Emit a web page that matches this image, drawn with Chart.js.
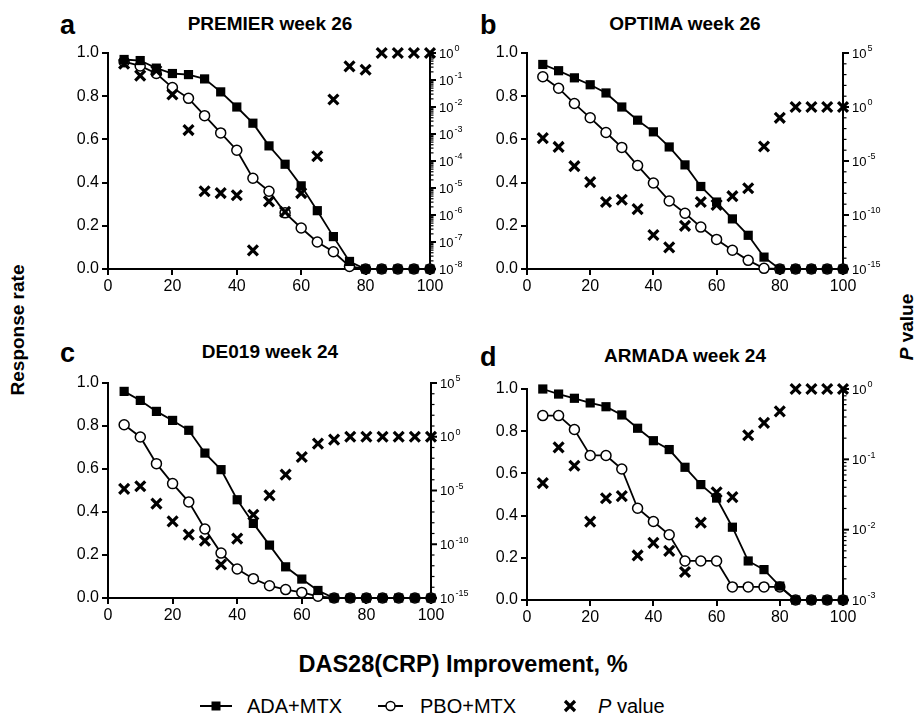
<!DOCTYPE html>
<html>
<head>
<meta charset="utf-8">
<script src="https://cdn.jsdelivr.net/npm/chart.js@4.4.0/dist/chart.umd.min.js"></script>
<style>
  body { margin: 0; background: #fff; }
  #fig { position: relative; width: 920px; height: 718px; overflow: hidden; background: #fff; }
  #fig canvas, #fig svg { position: absolute; left: 0; top: 0; }
</style>
</head>
<body>
<div id="fig">
  <svg width="920" height="718" font-family="'Liberation Sans', Arial, sans-serif" fill="#000">
    <text x="60" y="34" font-size="27" font-weight="bold">a</text>
    <text x="480" y="34" font-size="27" font-weight="bold">b</text>
    <text x="60" y="362" font-size="27" font-weight="bold">c</text>
    <text x="480" y="366" font-size="27" font-weight="bold">d</text>

    <text x="270" y="30" font-size="19" font-weight="bold" text-anchor="middle">PREMIER week 26</text>
    <text x="685" y="30" font-size="19" font-weight="bold" text-anchor="middle">OPTIMA week 26</text>
    <text x="270" y="358" font-size="19" font-weight="bold" text-anchor="middle">DE019 week 24</text>
    <text x="685" y="362" font-size="19" font-weight="bold" text-anchor="middle">ARMADA week 24</text>

    <text transform="translate(24,330) rotate(-90)" font-size="19" font-weight="bold" text-anchor="middle">Response rate</text>
    <text transform="translate(913,327) rotate(-90)" font-size="19" font-weight="bold" text-anchor="middle"><tspan font-style="italic">P</tspan> value</text>

    <text x="463" y="672" font-size="23.5" font-weight="bold" text-anchor="middle">DAS28(CRP) Improvement, %</text>

    <line x1="200" y1="706" x2="232" y2="706" stroke="#000" stroke-width="2"/>
    <rect x="211.5" y="701.5" width="9" height="9" fill="#000"/>
    <text x="247" y="713" font-size="20">ADA+MTX</text>
    <line x1="378" y1="706" x2="403" y2="706" stroke="#000" stroke-width="2"/>
    <circle cx="390.5" cy="706" r="4.5" fill="#fff" stroke="#000" stroke-width="1.5"/>
    <text x="420" y="713" font-size="20">PBO+MTX</text>
    <path d="M565 701 L575 711 M575 701 L565 711" stroke="#000" stroke-width="3.2"/>
    <text x="598" y="713" font-size="20"><tspan font-style="italic">P</tspan> value</text>
  </svg>
  <canvas id="pa"></canvas>
  <canvas id="pb"></canvas>
  <canvas id="pc"></canvas>
  <canvas id="pd"></canvas>
</div>
<script>
// DAS28(CRP) improvement thresholds, %
const improvement = [5, 10, 15, 20, 25, 30, 35, 40, 45, 50, 55, 60, 65, 70, 75, 80, 85, 90, 95, 100];

// a: PREMIER week 26
const premierAda = [0.97, 0.965, 0.93, 0.905, 0.90, 0.88, 0.82, 0.75, 0.675, 0.57, 0.485, 0.385, 0.27, 0.15, 0.035, 0, 0, 0, 0, 0];
const premierPbo = [0.96, 0.94, 0.905, 0.84, 0.79, 0.71, 0.63, 0.55, 0.42, 0.36, 0.26, 0.19, 0.125, 0.08, 0.012, 0, 0, 0, 0, 0];
const premierP = [0.40, 0.145, 0.22, 0.029, 1.4e-3, 7.6e-6, 6.5e-6, 5.4e-6, 4.9e-8, 3.2e-6, 1.3e-6, 6.5e-6, 1.5e-4, 0.019, 0.32, 0.24, 1, 1, 1, 1];

// b: OPTIMA week 26
const optimaAda = [0.947, 0.918, 0.885, 0.853, 0.815, 0.75, 0.689, 0.635, 0.565, 0.482, 0.382, 0.31, 0.232, 0.156, 0.055, 0, 0, 0, 0, 0];
const optimaPbo = [0.89, 0.837, 0.766, 0.70, 0.632, 0.563, 0.479, 0.398, 0.315, 0.258, 0.194, 0.137, 0.087, 0.04, 0.003, 0, 0, 0, 0, 0];
const optimaP = [1.3e-3, 2e-4, 3.3e-6, 1.1e-7, 1.6e-9, 2.6e-9, 3.5e-10, 1.4e-12, 1e-13, 1e-11, 1.6e-9, 8.7e-10, 5.5e-9, 3e-8, 2.2e-4, 0.1, 1, 1, 1, 1];

// c: DE019 week 24
const de019Ada = [0.961, 0.919, 0.868, 0.826, 0.78, 0.674, 0.597, 0.457, 0.347, 0.246, 0.145, 0.088, 0.035, 0, 0, 0, 0, 0, 0, 0];
const de019Pbo = [0.806, 0.749, 0.625, 0.532, 0.447, 0.321, 0.209, 0.135, 0.09, 0.057, 0.039, 0.026, 0.008, 0, 0, 0, 0, 0, 0, 0];
const de019P = [1.4e-5, 2.5e-5, 6e-7, 1.35e-8, 7.8e-10, 2.1e-10, 1.3e-12, 3.3e-10, 5.6e-8, 3.5e-6, 3e-4, 1.3e-2, 0.23, 0.54, 1, 1, 1, 1, 1, 1];

// d: ARMADA week 24
const armadaAda = [1.0, 0.976, 0.956, 0.934, 0.916, 0.877, 0.814, 0.755, 0.713, 0.629, 0.547, 0.483, 0.345, 0.185, 0.144, 0.066, 0, 0, 0, 0];
const armadaPbo = [0.874, 0.874, 0.808, 0.685, 0.685, 0.621, 0.435, 0.372, 0.309, 0.185, 0.185, 0.185, 0.062, 0.062, 0.062, 0.062, 0, 0, 0, 0];
const armadaP = [0.046, 0.148, 0.081, 0.013, 0.028, 0.030, 0.0043, 0.0065, 0.005, 0.0025, 0.0126, 0.034, 0.029, 0.22, 0.33, 0.48, 1, 1, 1, 1];

// tick labels
const xTicks = [0, 20, 40, 60, 80, 100];
const rateTicks = [0, 0.2, 0.4, 0.6, 0.8, 1.0];
const premierExp = [0, -1, -2, -3, -4, -5, -6, -7, -8];
const wideExp = [5, 0, -5, -10, -15];
const armadaExp = [0, -1, -2, -3];

const FONT = "'Liberation Sans', Arial, sans-serif";
Chart.defaults.font.family = FONT;
Chart.defaults.color = '#000';

// right log axis: ticks + 10^n labels drawn by hand (superscripts)
const pAxis = {
  id: 'pAxis',
  afterDraw(chart, args, opts) {
    const s = chart.scales.p;
    const ctx = chart.ctx;
    const x = s.left;
    const lo = Math.min(...opts.exps), hi = Math.max(...opts.exps);
    ctx.save();
    ctx.strokeStyle = '#000';
    ctx.fillStyle = '#000';
    const tick = (y, len, w) => {
      ctx.lineWidth = w;
      ctx.beginPath();
      ctx.moveTo(x, y);
      ctx.lineTo(x + len, y);
      ctx.stroke();
    };
    for (let e = lo; e < hi; e++) {
      if (opts.fine) {
        for (let m = 2; m <= 9; m++) tick(s.getPixelForValue(m * Math.pow(10, e)), 3.5, 1.2);
      } else if (!opts.exps.includes(e)) {
        tick(s.getPixelForValue(Math.pow(10, e)), 3.5, 1.2);
      }
    }
    ctx.textBaseline = 'middle';
    opts.exps.forEach(e => {
      const y = s.getPixelForValue(Math.pow(10, e));
      tick(y, 6, 2);
      ctx.font = '13px ' + FONT;
      ctx.fillText('10', x + 9, y + 1);
      const w = ctx.measureText('10').width;
      ctx.font = '9px ' + FONT;
      ctx.fillText(String(e), x + 10 + w, y - 4);
    });
    ctx.restore();
  }
};

function panel(id, box, ada, pbo, pv, exps, fine) {
  const L = 70, T = 25, R = 60, B = 35;
  const YW = 55, PW = 50, XH = 26;
  const cv = document.getElementById(id);
  cv.width = box.right - box.left + L + R;
  cv.height = box.bottom - box.top + T + B;
  cv.style.left = (box.left - L) + 'px';
  cv.style.top = (box.top - T) + 'px';

  const pts = arr => improvement.map((x, i) => ({ x: x, y: arr[i] }));

  new Chart(cv, {
    type: 'line',
    data: {
      datasets: [
        {
          label: 'P value', data: pts(pv), yAxisID: 'p', showLine: false,
          pointStyle: 'crossRot', pointRadius: 7, pointBorderWidth: 3.2,
          borderColor: '#000', backgroundColor: '#000', clip: false
        },
        {
          label: 'ADA+MTX', data: pts(ada), yAxisID: 'y',
          borderColor: '#000', borderWidth: 1.8, backgroundColor: '#000',
          pointStyle: 'rect', pointRadius: 6.5, pointBorderWidth: 0, clip: false
        },
        {
          label: 'PBO+MTX', data: pts(pbo), yAxisID: 'y',
          borderColor: '#000', borderWidth: 1.8,
          pointStyle: 'circle', pointRadius: 5, pointBorderWidth: 1.5,
          pointBackgroundColor: '#fff', pointBorderColor: '#000', clip: false
        }
      ]
    },
    options: {
      responsive: false,
      animation: false,
      layout: { padding: { left: L - YW, top: T, right: R - PW, bottom: B - XH } },
      plugins: {
        legend: { display: false },
        tooltip: { enabled: false },
        pAxis: { exps: exps, fine: fine }
      },
      scales: {
        x: {
          type: 'linear', position: 'bottom', min: 0, max: 100,
          afterBuildTicks: s => { s.ticks = xTicks.map(v => ({ value: v })); },
          afterFit: s => { s.height = XH; },
          ticks: { font: { size: 16 }, color: '#000', padding: 2, maxRotation: 0 },
          grid: { drawOnChartArea: false, color: '#000', lineWidth: 2, tickLength: 6 },
          border: { color: '#000', width: 2 }
        },
        y: {
          position: 'left', min: 0, max: 1,
          afterBuildTicks: s => { s.ticks = rateTicks.map(v => ({ value: v })); },
          afterFit: s => { s.width = YW; },
          ticks: { font: { size: 16 }, color: '#000', padding: 3, callback: v => v.toFixed(1) },
          grid: { drawOnChartArea: false, color: '#000', lineWidth: 2, tickLength: 6 },
          border: { color: '#000', width: 2 }
        },
        p: {
          type: 'logarithmic', position: 'right',
          min: Math.pow(10, Math.min(...exps)), max: Math.pow(10, Math.max(...exps)),
          afterBuildTicks: s => { s.ticks = exps.map(e => ({ value: Math.pow(10, e) })); },
          afterFit: s => { s.width = PW; },
          ticks: { display: false },
          grid: { display: false },
          border: { color: '#000', width: 2 }
        }
      }
    },
    plugins: [pAxis]
  });
}

panel('pa', { left: 108, top: 53, right: 430, bottom: 269 }, premierAda, premierPbo, premierP, premierExp, true);
panel('pb', { left: 527, top: 53, right: 843, bottom: 269 }, optimaAda, optimaPbo, optimaP, wideExp, false);
panel('pc', { left: 108, top: 383, right: 431, bottom: 598 }, de019Ada, de019Pbo, de019P, wideExp, false);
panel('pd', { left: 527, top: 389, right: 843, bottom: 600 }, armadaAda, armadaPbo, armadaP, armadaExp, true);
</script>
</body>
</html>
